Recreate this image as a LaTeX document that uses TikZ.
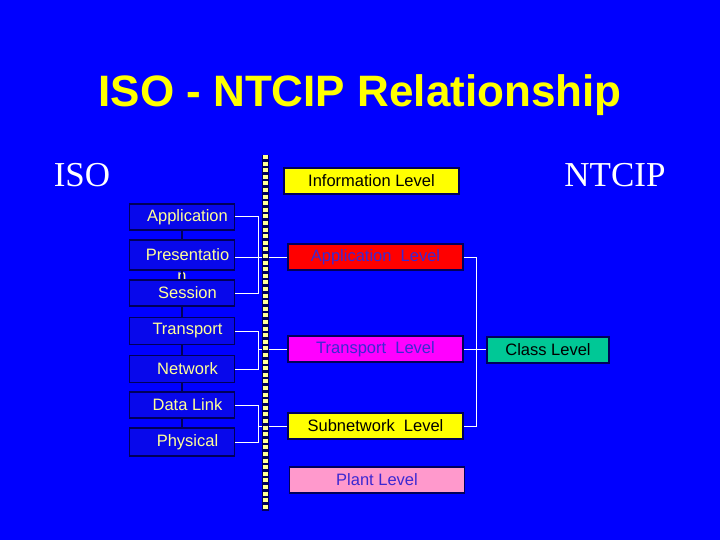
\documentclass[tikz,border=0pt]{standalone}
\usepackage{fontspec}
\setmainfont{Liberation Sans}
\newfontfamily\serifface{Liberation Serif}
\definecolor{slideblue}{RGB}{0,0,255}
\definecolor{isofill}{RGB}{8,8,235}
\definecolor{navyedge}{RGB}{0,0,90}
\definecolor{paleyellow}{RGB}{255,255,150}
\definecolor{lvltext}{RGB}{60,40,210}
\definecolor{lvlred}{RGB}{255,0,0}
\definecolor{lvlmagenta}{RGB}{255,0,255}
\definecolor{lvlyellow}{RGB}{255,255,0}
\definecolor{lvlpink}{RGB}{255,153,204}
\definecolor{lvlteal}{RGB}{0,200,150}
\tikzset{
  isobox/.style={draw=navyedge, line width=1.5pt, fill=isofill, minimum width=105pt,
    minimum height=26pt, inner sep=0pt, text=paleyellow, font=\fontsize{16.5}{18}\selectfont,
    execute at begin node=\hspace*{11pt}},
  lvlbox/.style={draw=navyedge, line width=1.5pt, minimum width=175pt, minimum height=26pt,
    inner sep=0pt, font=\fontsize{16.5}{18}\selectfont},
  wire/.style={draw=white, line width=1pt},
}
\begin{document}
\begin{tikzpicture}[x=1pt, y=-1pt]
\useasboundingbox (0,0) rectangle (720,540);
\fill[slideblue] (0,0) rectangle (720,540);
% titles
\node[text=lvlyellow, font=\fontsize{44}{48}\selectfont\bfseries] (title) at (360,95) {ISO - NTCIP Relationship};
\node[text=white, font=\fontsize{35}{38}\serifface] (isohead) at (82,175) {ISO};
\node[text=white, font=\fontsize{35}{38}\serifface] (ntciphead) at (615,175) {NTCIP};
% ISO layers
\node[isobox] (app) at (182,217) {Application};
\node[isobox, minimum height=30pt, label={[text=paleyellow, font=\fontsize{16.5}{18}\selectfont, inner sep=0pt, yshift=-2pt]below:n}] (pre) at (182,255) {Presentatio};
\node[isobox] (ses) at (182,293) {Session};
\node[isobox, minimum height=27pt] (tra) at (182,331) {Transport};
\node[isobox, minimum height=27pt] (net) at (182,369) {Network};
\node[isobox] (dat) at (182,405) {Data Link};
\node[isobox, minimum height=28pt] (phy) at (182,442) {Physical};
\draw[navyedge, line width=1.5pt] (app.south) -- (pre.north) (pre.south) -- (ses.north)
  (ses.south) -- (tra.north) (tra.south) -- (net.north) (net.south) -- (dat.north)
  (dat.south) -- (phy.north);
% NTCIP levels
\node[lvlbox, fill=lvlyellow, text=black] (info) at (371.5,181) {Information Level};
\node[lvlbox, fill=lvlred, text=lvltext] (applvl) at (375.5,257) {Application\ \ Level};
\node[lvlbox, fill=lvlmagenta, text=lvltext] (trlvl) at (375.5,349) {Transport\ \ Level};
\node[lvlbox, fill=lvlyellow, text=black] (sublvl) at (375.5,426) {Subnetwork\ \ Level};
\node[lvlbox, fill=lvlpink, text=lvltext] (plant) at (377,480) {Plant Level};
\node[lvlbox, fill=lvlteal, text=black, minimum width=122pt] (class) at (548,350) {Class Level};
% brackets
\coordinate (isobar) at (258,0);
\coordinate (ntcipbar) at (476,0);
\draw[wire] (app.east) -- (app.east -| isobar) |- (ses.east);
\draw[wire] (applvl.west -| pre.east) -- (applvl.west);
\draw[wire] (tra.east) -- (tra.east -| isobar) |- (net.east);
\draw[wire] (trlvl.west -| isobar) -- (trlvl.west);
\draw[wire] (dat.east) -- (dat.east -| isobar) |- (phy.east);
\draw[wire] (sublvl.west -| isobar) -- (sublvl.west);
\draw[wire] (applvl.east) -- (applvl.east -| ntcipbar) |- (sublvl.east);
\draw[wire] (trlvl.east) -- (class.west |- trlvl.east);
% divider
\coordinate (bartop) at (265,155);
\coordinate (barbot) at (265,511);
\draw[navyedge, line width=7pt] (bartop) -- (barbot);
\draw[paleyellow, line width=5pt, dash pattern=on 4pt off 2.6pt] (bartop) -- (barbot);
\end{tikzpicture}
\end{document}
